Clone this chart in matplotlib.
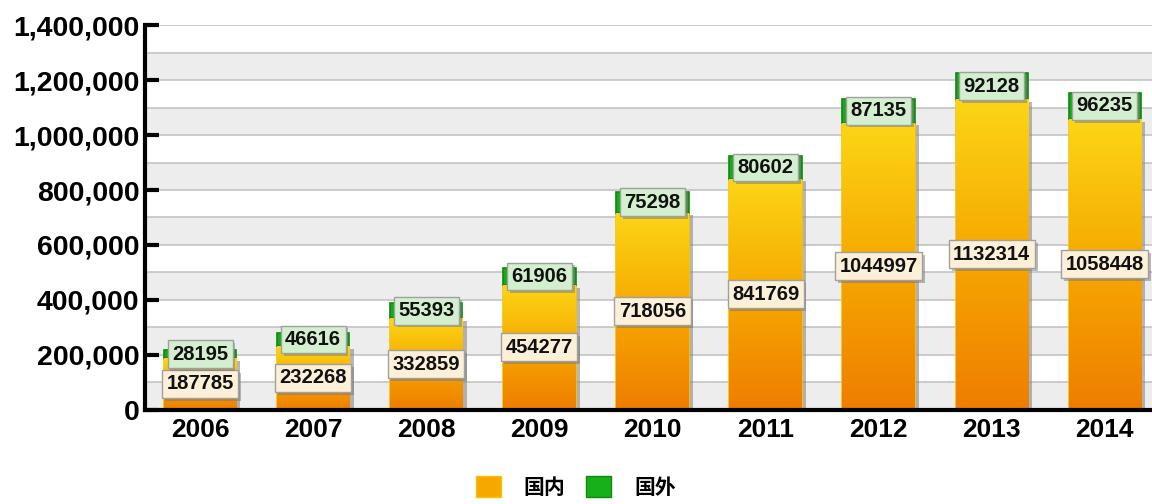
import matplotlib
matplotlib.use("Agg")
import matplotlib.pyplot as plt
import matplotlib.patheffects as pe
from matplotlib.colors import LinearSegmentedColormap
from matplotlib.patches import Patch
from matplotlib.ticker import FuncFormatter, MultipleLocator
import numpy as np

years = ["2006", "2007", "2008", "2009", "2010", "2011", "2012", "2013", "2014"]
domestic = [187785, 232268, 332859, 454277, 718056, 841769, 1044997, 1132314, 1058448]
foreign = [28195, 46616, 55393, 61906, 75298, 80602, 87135, 92128, 96235]

plt.rcParams['font.family'] = ['Liberation Sans', 'DejaVu Sans']

fig = plt.figure(figsize=(11.52, 5.04), dpi=100)
ax = fig.add_axes([0.126, 0.187, 0.874, 0.763])

x = np.arange(len(years))
w = 0.64

# alternating grey bands with thin lines every 100k
for j in range(7):
    ax.axhspan(2 * j * 100000, (2 * j + 1) * 100000, color='#ededed', zorder=0, lw=0)
for v in range(100000, 1400001, 100000):
    ax.axhline(v, color='#c4c4c4', lw=1.2, zorder=0.5)

orange = LinearSegmentedColormap.from_list('og', ['#ef7d00', '#f6a800', '#fcd616'])
grad = np.linspace(0, 1, 256).reshape(-1, 1)

shadow = [pe.SimplePatchShadow(offset=(3, -2), shadow_rgbFace='#888888', alpha=0.6), pe.Normal()]

dom_bars = ax.bar(x, domestic, w, color='#f6a800', edgecolor='#f7c400', lw=1.2, zorder=2)
for b in dom_bars:
    b.set_path_effects(shadow)
    x0, h = b.get_x(), b.get_height()
    im = ax.imshow(grad, cmap=orange, origin='lower', aspect='auto',
                   extent=(x0, x0 + w, 0, h), zorder=2.1)
    im.set_clip_path(b)
ax.bar(x, foreign, w, bottom=domestic, color='#18a818', edgecolor='#0c8a0c', lw=1.2, zorder=2)

ax.set_xlim(-0.486, 8.417)
ax.set_ylim(0, 1400000)

box_shadow = [pe.SimplePatchShadow(offset=(2, -2), shadow_rgbFace='#777777', alpha=0.5), pe.Normal()]
for i in range(len(years)):
    t = ax.text(x[i], domestic[i] / 2, str(domestic[i]), ha='center', va='center', fontsize=14.5,
                fontweight='bold', color='#111111', zorder=5,
                bbox=dict(boxstyle='square,pad=0.22', fc='#fdf0d8', ec='#a0a0a0', lw=1))
    t.get_bbox_patch().set_path_effects(box_shadow)
    t = ax.text(x[i], domestic[i] + foreign[i] / 2, str(foreign[i]), ha='center', va='center',
                fontsize=14.5, fontweight='bold', color='#111111', zorder=5,
                bbox=dict(boxstyle='square,pad=0.22', fc='#d3efcf', ec='#a0a0a0', lw=1))
    t.get_bbox_patch().set_path_effects(box_shadow)

ax.yaxis.set_major_locator(MultipleLocator(200000))
ax.yaxis.set_major_formatter(FuncFormatter(lambda v, p: f"{int(v):,}"))
ax.set_xticks(x)
ax.set_xticklabels(years)
ax.tick_params(axis='y', direction='in', length=10, width=3, labelsize=20.5, pad=4)
ax.tick_params(axis='x', length=0, labelsize=19, pad=6)
for lab in ax.get_xticklabels() + ax.get_yticklabels():
    lab.set_fontweight('bold')

for s in ['top', 'right']:
    ax.spines[s].set_visible(False)
ax.spines['left'].set_linewidth(3)
ax.spines['bottom'].set_linewidth(3)

handles = [Patch(fc='#f6a800', ec='#f7c400'), Patch(fc='#18b018', ec='#0c8a0c')]
fig.legend(handles, ['国内', '国外'], loc='lower center', bbox_to_anchor=(0.5, -0.025), ncol=2,
           frameon=False, handlelength=1.2, handleheight=1.2, columnspacing=1.0, handletextpad=1.1,
           prop=dict(family=['Noto Sans CJK SC', 'DejaVu Sans'], weight='bold', size=15))

fig.savefig('out.png', dpi=100)
